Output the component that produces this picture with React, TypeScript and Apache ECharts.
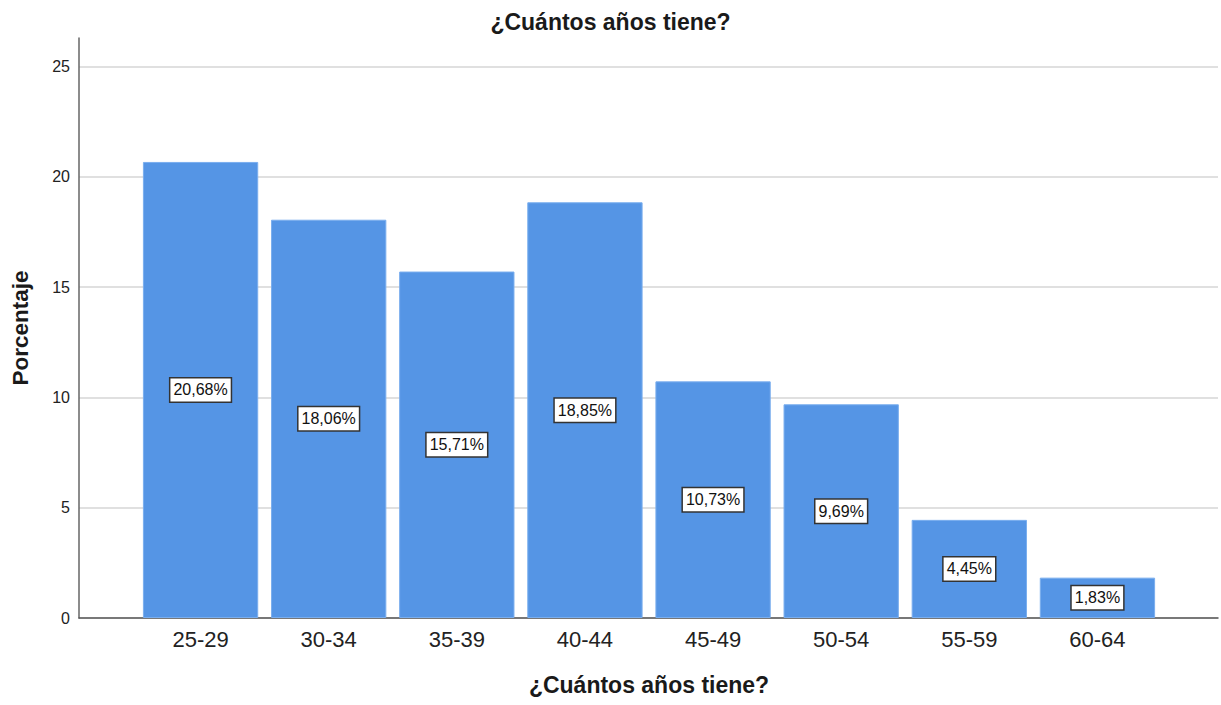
import React, { useEffect, useRef } from "react";
import * as echarts from "echarts";

const categories = ["25-29", "30-34", "35-39", "40-44", "45-49", "50-54", "55-59", "60-64"];
const percentages = [20.68, 18.06, 15.71, 18.85, 10.73, 9.69, 4.45, 1.83];
const yTicks = [0, 5, 10, 15, 20, 25];
const yMax = 26.3;
const titleText = "¿Cuántos años tiene?";
const xName = "¿Cuántos años tiene?";
const yName = "Porcentaje";

const FONT = "Arial, 'Liberation Sans', sans-serif";

export default function App() {
  const ref = useRef<HTMLDivElement>(null);
  useEffect(() => {
    document.body.style.margin = "0";
    const chart = echarts.init(ref.current!, null, { renderer: "svg" });
    const gridColors = yTicks.map(() => "#d6d6d6").concat(["rgba(0,0,0,0)"]);
    chart.setOption({
      animation: false,
      backgroundColor: "#ffffff",
      textStyle: { fontFamily: FONT },
      title: {
        text: titleText,
        left: "center",
        top: 5,
        textStyle: { fontFamily: FONT, fontSize: 23, fontWeight: "bold", color: "#1a1a1a" },
      },
      grid: [
        { left: 79, right: 3, top: 38, bottom: 87 },
        { left: 136.5, right: 59.5, top: 38, bottom: 87 },
      ],
      xAxis: [
        {
          gridIndex: 0,
          type: "value",
          min: 0,
          max: 1,
          axisLine: { show: true, lineStyle: { color: "#555", width: 1.5 } },
          axisTick: { show: false },
          axisLabel: { show: false },
          splitLine: { show: false },
        },
        {
          gridIndex: 1,
          type: "category",
          data: categories,
          axisLine: { show: false },
          axisTick: { show: false },
          axisLabel: { fontFamily: FONT, fontSize: 22, color: "#222", margin: 10 },
          name: xName,
          nameLocation: "middle",
          nameGap: 55,
          nameTextStyle: { fontFamily: FONT, fontSize: 23, fontWeight: "bold", color: "#1a1a1a" },
        },
      ],
      yAxis: [
        {
          gridIndex: 0,
          type: "value",
          min: 0,
          max: yMax,
          interval: 5,
          axisLine: { show: true, lineStyle: { color: "#666", width: 1.5 } },
          axisTick: { show: false },
          axisLabel: {
            fontFamily: FONT,
            fontSize: 16,
            color: "#222",
            margin: 9,
            formatter: (v: number) => (yTicks.indexOf(v) >= 0 ? String(v) : ""),
          },
          splitLine: { show: true, lineStyle: { color: gridColors, width: 1.5 } },
          name: yName,
          nameLocation: "middle",
          nameRotate: 90,
          nameGap: 47,
          nameTextStyle: { fontFamily: FONT, fontSize: 22.5, fontWeight: "bold", color: "#1a1a1a" },
        },
        {
          gridIndex: 1,
          type: "value",
          min: 0,
          max: yMax,
          show: false,
          splitLine: { show: false },
        },
      ],
      series: [
        {
          type: "bar",
          xAxisIndex: 1,
          yAxisIndex: 1,
          data: percentages,
          barCategoryGap: "10%",
          itemStyle: { color: "#5595e5", borderColor: "#7aaeee", borderWidth: 1 },
          label: {
            show: true,
            position: "inside",
            formatter: (p: any) => p.value.toFixed(2).replace(".", ",") + "%",
            fontFamily: FONT,
            fontSize: 16,
            color: "#111",
            backgroundColor: "#ffffff",
            borderColor: "#333",
            borderWidth: 1.5,
            padding: [4, 3, 3, 3],
          },
        },
      ],
    });
    return () => chart.dispose();
  }, []);
  return <div ref={ref} style={{ width: 1221, height: 705 }} />;
}
